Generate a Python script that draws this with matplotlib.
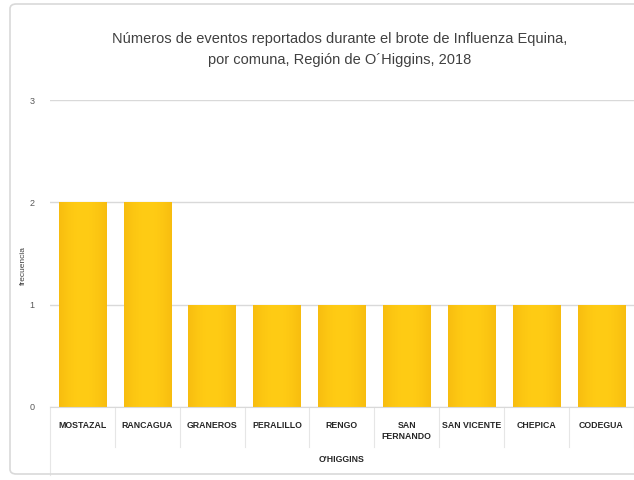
import matplotlib
matplotlib.use("Agg")
import matplotlib.pyplot as plt
import numpy as np
from matplotlib.patches import FancyBboxPatch

comunas = ["MOSTAZAL", "RANCAGUA", "GRANEROS", "PERALILLO", "RENGO",
           "SAN\nFERNANDO", "SAN VICENTE", "CHEPICA", "CODEGUA"]
eventos = [2, 2, 1, 1, 1, 1, 1, 1, 1]
region = "O'HIGGINS"
y_ticks = [0, 1, 2, 3]
titulo = ("Números de eventos reportados durante el brote de Influenza Equina,\n"
          "por comuna, Región de O´Higgins, 2018")
y_label = "frecuencia"

fam = ["Liberation Sans", "DejaVu Sans"]

W, H = 634, 480
fig = plt.figure(figsize=(W / 100, H / 100), dpi=100)
fig.patch.set_facecolor("white")

# outer chart frame
frame = FancyBboxPatch((10 / W, 6 / H), 640 / W, 470 / H,
                       boxstyle="round,pad=0,rounding_size=0.01",
                       transform=fig.transFigure, fill=False,
                       edgecolor="#D9D9D9", linewidth=1.2)
fig.patches.append(frame)

ax_l, ax_r = 50 / W, 637 / W
ax_b, ax_t = 1 - 407 / H, 1 - 100 / H
ax = fig.add_axes([ax_l, ax_b, ax_r - ax_l, ax_t - ax_b])
ax.set_facecolor("none")

x = np.arange(len(comunas))
bars = ax.bar(x, eventos, width=0.73, color="#FFC000", edgecolor="none", zorder=2)

# horizontal shading inside each bar: slightly darker edges, lighter centre
grad = np.linspace(-1, 1, 64)
shade = 1 - grad ** 2
c_edge = np.array([0.97, 0.74, 0.06])
c_mid = np.array([1.00, 0.80, 0.08])
img = c_edge[None, :] + (c_mid - c_edge)[None, :] * shade[:, None]
img = img[None, :, :]
for b in bars:
    x0, w, h = b.get_x(), b.get_width(), b.get_height()
    im = ax.imshow(img, extent=(x0, x0 + w, 0, h), aspect="auto", zorder=2.1,
                   interpolation="bilinear")
    im.set_clip_path(b)

ax.set_xlim(-0.5, len(comunas) - 0.45)
ax.set_ylim(0, 3)
ax.set_yticks(y_ticks)
ax.set_yticklabels([str(t) for t in y_ticks], fontsize=6.5, color="#595959", family=fam)
ax.tick_params(axis="y", length=0, pad=11)
ax.grid(axis="y", color="#D9D9D9", linewidth=1.0, zorder=0)
for s in ["top", "right", "left"]:
    ax.spines[s].set_visible(False)
ax.spines["bottom"].set_color("#D9D9D9")
ax.set_xticks([])

ax.set_ylabel(y_label, fontsize=6, color="#404040", family=fam)
ax.yaxis.set_label_coords(-0.04, 0.46)

# category labels and separators below the axis
tr = ax.get_xaxis_transform()
for i, name in enumerate(comunas):
    ax.text(i, -0.045, name, transform=tr, ha="center", va="top",
            fontsize=6.3, color="#262626", fontweight="bold", family=fam,
            linespacing=1.3)
for i in range(len(comunas) + 1):
    xb = i - 0.5
    ax.plot([xb, xb], [0, -0.13 if i else -0.22], transform=tr, clip_on=False,
            color="#E6E6E6", linewidth=0.8)
ax.text(4, -0.155, region, transform=tr, ha="center", va="top",
        fontsize=6.3, color="#262626", fontweight="bold", family=fam)

fig.text(340 / W, 1 - 32 / H, titulo, ha="center", va="top", fontsize=10.5,
         color="#404040", family=fam, linespacing=1.6)

fig.savefig("out.png", dpi=100, facecolor="white")
